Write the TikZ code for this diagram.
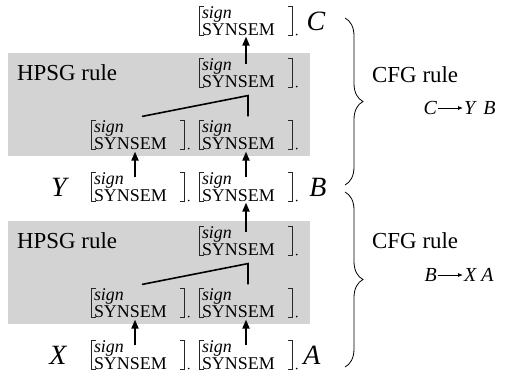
\documentclass[tikz,border=0pt]{standalone}
\usepackage{fontspec}
\setmainfont{Liberation Serif}
\usetikzlibrary{decorations.pathreplacing,arrows.meta}

\definecolor{boxgray}{RGB}{211,211,211}

% square brackets and trailing period around an attribute-value matrix node
\newcommand\avmbr[1]{%
  \draw[bracketline] ([xshift=4.5bp]#1.north west) -- (#1.north west) -- (#1.south west) -- ([xshift=4.5bp]#1.south west);
  \draw[bracketline] ([xshift=-4.5bp]#1.north east) -- (#1.north east) -- (#1.south east) -- ([xshift=-4.5bp]#1.south east);
  \fill ([xshift=4bp,yshift=1bp]#1.south east) circle (0.9bp);
}

\tikzset{
  avm/.style={minimum width=93bp, minimum height=26bp, inner sep=0pt,
    text width=88bp, align=left, font=\fontsize{18}{10.5}\selectfont},
  bracketline/.style={line width=0.8bp, black!85},
  catlabel/.style={font=\fontsize{28}{30}\selectfont\itshape, inner sep=0pt},
  boxlabel/.style={font=\fontsize{23}{25}\selectfont, inner sep=0pt, anchor=base west},
  hpsgbox/.style={fill=boxgray, minimum width=302bp, minimum height=103bp, inner sep=0pt},
  uparrow/.style={line width=1.8bp, -{Triangle[length=9bp,width=7bp]}},
  treeline/.style={line width=1.6bp},
  rulesym/.style={font=\fontsize{20}{22}\selectfont\itshape, inner sep=1bp},
  rulearrow/.style={line width=0.8bp, -{Latex[length=5bp,width=4bp]}},
  cfgbrace/.style={line width=0.8bp, decorate, decoration={brace, amplitude=18bp}},
}

\begin{document}
\begin{tikzpicture}[x=1bp, y=-1bp]
\useasboundingbox (0,0) rectangle (510,377);

% grey HPSG rule boxes
\node[hpsgbox] (box1) at (159,104.5) {};
\node[hpsgbox] (box2) at (159,272.5) {};
\node[boxlabel] (hpsg1) at (17,80) {HPSG rule};
\node[boxlabel] (hpsg2) at (17,248) {HPSG rule};

% feature structures
\node[avm] (c)   at (246,21)  {\textit{sign}\\SYNSEM};
\node[avm] (b1t) at (246,73)  {\textit{sign}\\SYNSEM};
\node[avm] (b1l) at (138,135) {\textit{sign}\\SYNSEM};
\node[avm] (b1r) at (246,135) {\textit{sign}\\SYNSEM};
\node[avm] (y)   at (138,187) {\textit{sign}\\SYNSEM};
\node[avm] (b)   at (246,187) {\textit{sign}\\SYNSEM};
\node[avm] (b2t) at (246,241) {\textit{sign}\\SYNSEM};
\node[avm] (b2l) at (138,303) {\textit{sign}\\SYNSEM};
\node[avm] (b2r) at (246,303) {\textit{sign}\\SYNSEM};
\node[avm] (x)   at (138,355) {\textit{sign}\\SYNSEM};
\node[avm] (a)   at (246,355) {\textit{sign}\\SYNSEM};
\foreach \n in {c,b1t,b1l,b1r,y,b,b2t,b2l,b2r,x,a} {\avmbr{\n}}

% category symbols
\node[catlabel] (catC) at (316,21)  {C};
\node[catlabel] (catY) at (59,187)  {Y};
\node[catlabel] (catB) at (318,187) {B};
\node[catlabel] (catX) at (58,355)  {X};
\node[catlabel] (catA) at (312,355) {A};

% rule trees inside the boxes
\coordinate (apex1) at ([xshift=2bp,yshift=-8bp]b1t.south);
\draw[treeline] ([xshift=4bp,yshift=4bp]b1l.north) -- (apex1) -- ([xshift=2bp,yshift=4bp]b1r.north);
\coordinate (apex2) at ([xshift=2bp,yshift=-8bp]b2t.south);
\draw[treeline] ([xshift=4bp,yshift=4bp]b2l.north) -- (apex2) -- ([xshift=2bp,yshift=4bp]b2r.north);

% unification arrows
\draw[uparrow] ([yshift=-6bp]b1t.north) -- ([yshift=-1bp]c.south);
\draw[uparrow] ([xshift=-3bp,yshift=-5bp]y.north) -- ([xshift=-3bp,yshift=-2bp]b1l.south);
\draw[uparrow] ([yshift=-5bp]b.north) -- ([yshift=-2bp]b1r.south);
\draw[uparrow] ([yshift=-6bp]b2t.north) -- ([yshift=-1bp]b.south);
\draw[uparrow] ([xshift=-3bp,yshift=-5bp]x.north) -- ([xshift=-3bp,yshift=-2bp]b2l.south);
\draw[uparrow] ([yshift=-5bp]a.north) -- ([yshift=-2bp]b2r.south);

% braces and CFG rules
\draw[cfgbrace] (345,18) -- (345,185);
\draw[cfgbrace] (345,192) -- (345,367);

\node[boxlabel] (cfg1) at (372,82) {CFG rule};
\node[rulesym, anchor=east] (lhs1) at (438,108) {C};
\node[rulesym, anchor=west] (rhs1) at (463,108) {Y\hspace{8bp}B};
\draw[rulearrow] (lhs1) -- (rhs1);

\node[boxlabel] (cfg2) at (372,248) {CFG rule};
\node[rulesym, anchor=east] (lhs2) at (438,275) {B};
\node[rulesym, anchor=west] (rhs2) at (463,275) {X\hspace{5bp}A};
\draw[rulearrow] (lhs2) -- (rhs2);
\end{tikzpicture}
\end{document}
